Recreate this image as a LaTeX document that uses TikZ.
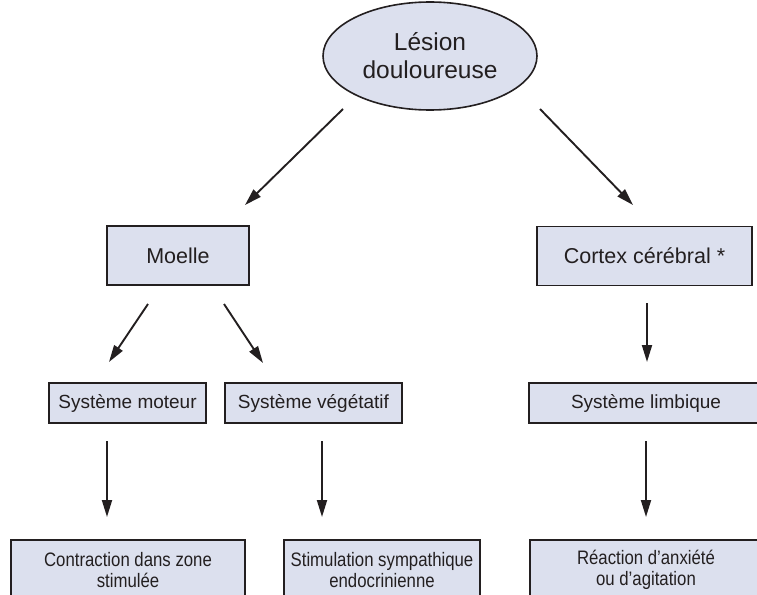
\documentclass[tikz,border=0pt]{standalone}
\usepackage{fontspec}
\setmainfont{Liberation Sans}
\newfontfamily\narrowfont[FakeStretch=0.86]{Liberation Sans}
\usetikzlibrary{arrows.meta,shapes.geometric}
\definecolor{boxfill}{RGB}{220,224,238}
\definecolor{ink}{RGB}{35,31,32}

\begin{document}
\begin{tikzpicture}[x=1pt,y=-1pt,
  box/.style={draw=ink, line width=1.6pt, fill=boxfill, text=ink,
              inner sep=0pt, align=center},
  bigbox/.style={box, minimum height=59pt, font=\fontsize{21.5}{25}\selectfont},
  midbox/.style={box, minimum height=40pt, font=\fontsize{19}{22}\selectfont},
  lowbox/.style={box, minimum height=60pt, font=\narrowfont\fontsize{19.5}{20.5}\selectfont},
  arr/.style={draw=ink, line width=1.9pt, -{Triangle[length=17pt,width=10pt]}}
]
\useasboundingbox (0,0) rectangle (757,594);
\clip (0,0) rectangle (757,594);

% top of the tree
\node[ellipse, draw=ink, line width=1.6pt, fill=boxfill, text=ink, align=center,
      minimum width=214pt, minimum height=108pt, inner sep=0pt,
      font=\fontsize{24.5}{28}\selectfont] (lesion) at (430,56)
      {Lésion\\douloureuse};

% second level
\node[bigbox, minimum width=142pt] (moelle) at (178,255.5) {Moelle};
\node[bigbox, minimum width=215pt] (cortex) at (644.5,256) {Cortex cérébral *};

% third level
\node[midbox, minimum width=157pt] (moteur) at (127.5,403) {Système moteur};
\node[midbox, minimum width=177pt] (vegetatif) at (313.5,403) {Système végétatif};
\node[midbox, minimum width=234pt] (limbique) at (646,403) {Système limbique};

% bottom level (boxes run past the lower edge)
\node[lowbox, minimum width=234pt] (contraction) at (128,570)
      {Contraction dans zone\\stimulée};
\node[lowbox, minimum width=196pt] (stimulation) at (382,570)
      {Stimulation sympathique\\endocrinienne};
\node[lowbox, minimum width=232pt] (reaction) at (646,570)
      {Réaction d’anxiété\\ou d’agitation};

% arrow end points
\coordinate (l1) at (343,109);  \coordinate (l1t) at (245,205);
\coordinate (l2) at (540,109);  \coordinate (l2t) at (633,205);
\coordinate (m1) at (148,304);  \coordinate (m1t) at (109,362);
\coordinate (m2) at (224,304);  \coordinate (m2t) at (263,363);
\coordinate (c1) at (647,303);  \coordinate (c1t) at (647,362);
\coordinate (s1) at (107,441);  \coordinate (s1t) at (107,517);
\coordinate (s2) at (322,441);  \coordinate (s2t) at (322,517);
\coordinate (s3) at (646,441);  \coordinate (s3t) at (646,517);

\draw[arr] (l1) -- (l1t);
\draw[arr] (l2) -- (l2t);
\draw[arr] (m1) -- (m1t);
\draw[arr] (m2) -- (m2t);
\draw[arr] (c1) -- (c1t);
\draw[arr] (s1) -- (s1t);
\draw[arr] (s2) -- (s2t);
\draw[arr] (s3) -- (s3t);
\end{tikzpicture}
\end{document}
